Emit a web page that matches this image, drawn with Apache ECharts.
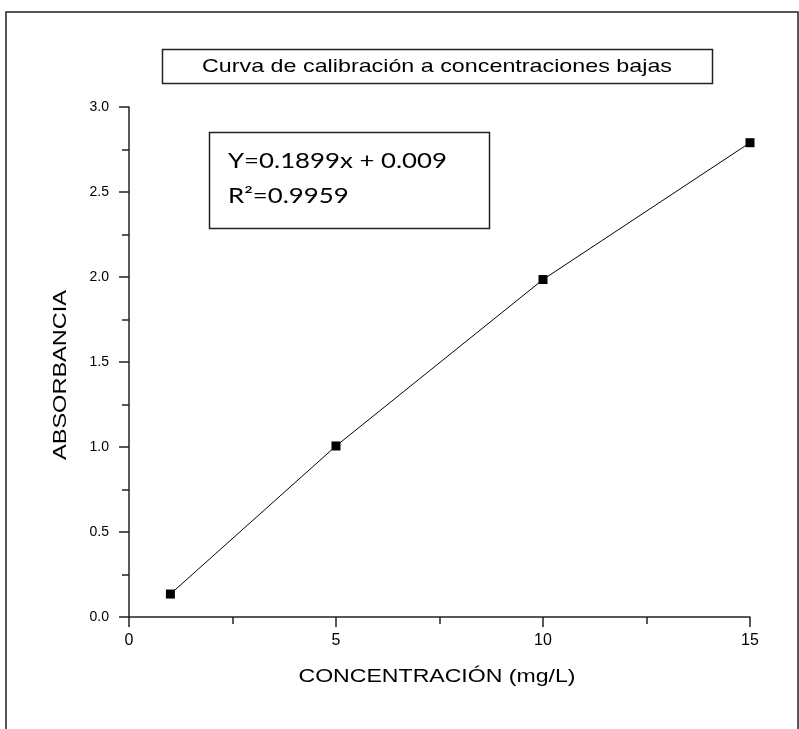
<!DOCTYPE html>
<html>
<head>
<meta charset="utf-8">
<script src="https://cdn.jsdelivr.net/npm/echarts@6/dist/echarts.min.js"></script>
<style>
html,body{margin:0;padding:0;background:#fff;}
#chart{width:799px;height:729px;}
</style>
</head>
<body>
<div id="chart"></div>
<script>
// ---- data ----
const concentrations = [1, 5, 10, 15];
const absorbances = [0.135, 1.006, 1.985, 2.79];
const xTickValues = [0, 5, 10, 15];
const yTickValues = [0.0, 0.5, 1.0, 1.5, 2.0, 2.5, 3.0];
const titleText = 'Curva de calibración a concentraciones bajas';
const xAxisTitle = 'CONCENTRACIÓN (mg/L)';
const yAxisTitle = 'ABSORBANCIA';
const equationLine = 'Y=0.1899x + 0.009';
const r2Line = 'R²=0.9959';

const chart = echarts.init(document.getElementById('chart'), null, {renderer: 'canvas'});

const ctx = document.createElement('canvas').getContext('2d');
function measure(text, font) { ctx.font = font; return ctx.measureText(text).width; }

// stretched text (original picture is horizontally stretched)
function stretchedText(text, font, cx, cy, targetWidth, align, rotation) {
  const w = measure(text, font);
  const s = targetWidth / w;
  return {
    type: 'text', x: cx, y: cy, rotation: rotation || 0, scaleX: s, scaleY: 1,
    silent: true,
    style: {
      text: text, x: 0, y: 0, font: font, fill: '#000',
      align: align || 'center', verticalAlign: 'middle',
      textAlign: align || 'center', textVerticalAlign: 'middle'
    }
  };
}

const titleFont = 'normal 19px "Liberation Sans", Arial, sans-serif';
const nameFont = 'normal 18px "Liberation Sans", Arial, sans-serif';
const eqFont = 'normal 21px Lato, "Open Sans", sans-serif';
const eqScale = 219 / measure(equationLine, eqFont);

const graphics = [
  // outer frame
  {type: 'rect', silent: true, shape: {x: 6, y: 12, width: 792, height: 740},
   style: {fill: 'none', stroke: '#222', lineWidth: 1.5}},
  // title box
  {type: 'rect', silent: true, shape: {x: 162.5, y: 49.5, width: 550, height: 34},
   style: {fill: '#fff', stroke: '#222', lineWidth: 1.5}},
  stretchedText(titleText, titleFont, 437, 67, 470),
  // equation box
  {type: 'rect', silent: true, shape: {x: 209.5, y: 132.5, width: 280, height: 96},
   style: {fill: '#fff', stroke: '#222', lineWidth: 1.5}},
  {type: 'text', x: 228, y: 161, scaleX: eqScale, silent: true,
   style: {text: equationLine, x: 0, y: 0, font: eqFont, fill: '#000',
           align: 'left', verticalAlign: 'middle', textAlign: 'left', textVerticalAlign: 'middle'}},
  {type: 'text', x: 228, y: 196, scaleX: eqScale, silent: true,
   style: {text: r2Line, x: 0, y: 0, font: eqFont, fill: '#000',
           align: 'left', verticalAlign: 'middle', textAlign: 'left', textVerticalAlign: 'middle'}},
  // axis titles
  stretchedText(xAxisTitle, nameFont, 437, 677, 277),
  stretchedText(yAxisTitle, nameFont, 61, 375, 170, 'center', Math.PI / 2)
];

const option = {
  backgroundColor: '#fff',
  animation: false,
  grid: {left: 129, right: 49, top: 107, bottom: 112, containLabel: false},
  xAxis: {
    type: 'value', min: 0, max: 15, interval: 5,
    axisLine: {show: true, onZero: false, lineStyle: {color: '#222', width: 1.5}},
    axisTick: {show: true, inside: false, length: 10, lineStyle: {color: '#222', width: 1.5}},
    minorTick: {show: true, splitNumber: 2, length: 7, lineStyle: {color: '#222', width: 1.5}},
    splitLine: {show: false},
    axisLabel: {
      margin: 16, color: '#000', fontSize: 16, fontFamily: '"Liberation Sans", Arial, sans-serif',
      formatter: function (v) { return xTickValues.indexOf(v) >= 0 ? String(v) : ''; }
    }
  },
  yAxis: {
    type: 'value', min: 0, max: 3, interval: 0.5,
    axisLine: {show: true, onZero: false, lineStyle: {color: '#222', width: 1.5}},
    axisTick: {show: true, inside: false, length: 10, lineStyle: {color: '#222', width: 1.5}},
    minorTick: {show: true, splitNumber: 2, length: 7, lineStyle: {color: '#222', width: 1.5}},
    splitLine: {show: false},
    axisLabel: {
      margin: 20, color: '#000', fontSize: 14, fontFamily: '"Liberation Sans", Arial, sans-serif',
      formatter: function (v) { return yTickValues.indexOf(v) >= 0 ? v.toFixed(1) : ''; }
    }
  },
  series: [{
    type: 'line',
    data: concentrations.map(function (c, i) { return [c, absorbances[i]]; }),
    symbol: 'rect', symbolSize: 9, showSymbol: true,
    itemStyle: {color: '#000'},
    lineStyle: {color: '#000', width: 1},
    clip: true
  }],
  graphic: graphics
};
chart.setOption(option);
</script>
</body>
</html>
